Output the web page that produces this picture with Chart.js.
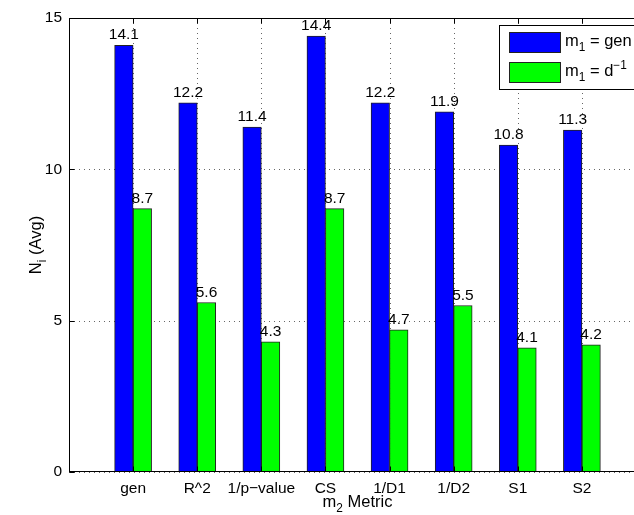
<!DOCTYPE html>
<html>
<head>
<meta charset="utf-8">
<script src="https://cdn.jsdelivr.net/npm/chart.js@4.4.1/dist/chart.umd.min.js"></script>
<style>
    html, body { margin: 0; padding: 0; background: #fff; overflow: hidden; }
    #wrap { width: 660px; height: 515px; }
</style>
</head>
<body>
<div id="wrap"><canvas id="myChart" width="660" height="515"></canvas></div>
<script>
    // du lieu doc tu hinh
    var metrics = ["gen", "R^2", "1/p\u2212value", "CS", "1/D1", "1/D2", "S1", "S2"];
    var genValues = [14.1, 12.2, 11.4, 14.4, 12.2, 11.9, 10.8, 11.3];
    var dinvValues = [8.7, 5.6, 4.3, 8.7, 4.7, 5.5, 4.1, 4.2];
    var yTicks = [0, 5, 10, 15];

    var FONT = '"Liberation Sans", Arial, Helvetica, sans-serif';
    var FS = 15.5;   // nhan truc, nhan gia tri
    var FT = 16.5;   // tieu de, chu giai

    // ve chu co chi so duoi / mu (m_1, d^-1 ...)
    function partSize(p, size) {
        return p.sub || p.sup ? size * 0.72 : size;
    }

    function drawRich(ctx, parts, x, y, align, size) {
        var w = 0;
        parts.forEach(function (p) {
            ctx.font = partSize(p, size) + "px " + FONT;
            w += ctx.measureText(p.t).width;
        });
        var cx = align === "center" ? x - w / 2 : x;
        ctx.textAlign = "left";
        ctx.textBaseline = "alphabetic";
        ctx.fillStyle = "#000";
        parts.forEach(function (p) {
            ctx.font = partSize(p, size) + "px " + FONT;
            var dy = p.sub ? size * 0.28 : (p.sup ? -size * 0.45 : 0);
            ctx.fillText(p.t, cx, y + dy);
            cx += ctx.measureText(p.t).width;
        });
    }

    var matlabAxes = {
        id: "matlabAxes",
        beforeDatasetsDraw: function (chart) {
            var ctx = chart.ctx;
            var a = chart.chartArea;
            var xs = chart.scales.x, ys = chart.scales.y;
            ctx.save();
            ctx.strokeStyle = "#666";
            ctx.lineWidth = 1;
            ctx.setLineDash([1, 4]);
            yTicks.forEach(function (v) {
                var py = Math.round(ys.getPixelForValue(v)) + 0.5;
                ctx.beginPath();
                ctx.moveTo(a.left, py);
                ctx.lineTo(a.right, py);
                ctx.stroke();
            });
            metrics.forEach(function (m, i) {
                var px = Math.round(xs.getPixelForValue(i + 1)) + 0.5;
                ctx.beginPath();
                ctx.moveTo(px, a.top);
                ctx.lineTo(px, a.bottom);
                ctx.stroke();
            });
            ctx.restore();
        },
        afterDatasetsDraw: function (chart) {
            var ctx = chart.ctx;
            var a = chart.chartArea;
            var xs = chart.scales.x, ys = chart.scales.y;
            var L = Math.round(a.left) + 0.5, R = Math.round(a.right) - 0.5;
            var T = Math.round(a.top) + 0.5, B = Math.round(a.bottom) - 0.5;
            ctx.save();
            ctx.setLineDash([]);
            ctx.strokeStyle = "#000";
            ctx.lineWidth = 1;
            ctx.strokeRect(L, T, R - L, B - T);
            // vach chia huong vao trong
            ctx.beginPath();
            metrics.forEach(function (m, i) {
                var px = Math.round(xs.getPixelForValue(i + 1)) + 0.5;
                ctx.moveTo(px, B); ctx.lineTo(px, B - 5);
                ctx.moveTo(px, T); ctx.lineTo(px, T + 5);
            });
            yTicks.forEach(function (v) {
                var py = Math.round(ys.getPixelForValue(v)) + 0.5;
                ctx.moveTo(L, py); ctx.lineTo(L + 5, py);
                ctx.moveTo(R, py); ctx.lineTo(R - 5, py);
            });
            ctx.stroke();

            // nhan gia tri tren moi cot
            ctx.font = FS + "px " + FONT;
            ctx.fillStyle = "#000";
            ctx.textAlign = "center";
            ctx.textBaseline = "alphabetic";
            chart.data.datasets.forEach(function (ds, di) {
                chart.getDatasetMeta(di).data.forEach(function (bar, i) {
                    ctx.fillText(ds.data[i].y.toFixed(1), bar.x, bar.y - 6);
                });
            });

            // chu giai
            ctx.fillStyle = "#fff";
            ctx.fillRect(499.5, 25.5, 200, 64);
            ctx.strokeRect(499.5, 25.5, 200, 64);
            var items = [
                { color: "#0000ff", y: 32, parts: [{ t: "m" }, { t: "1", sub: true }, { t: " = gen" }] },
                { color: "#00ff00", y: 62, parts: [{ t: "m" }, { t: "1", sub: true }, { t: " = d" }, { t: "\u22121", sup: true }] }
            ];
            items.forEach(function (it) {
                ctx.fillStyle = it.color;
                ctx.fillRect(509.5, it.y + 0.5, 51, 20);
                ctx.strokeStyle = "#222";
                ctx.strokeRect(509.5, it.y + 0.5, 51, 20);
                drawRich(ctx, it.parts, 565, it.y + 14, "left", FT);
            });

            // tieu de truc
            drawRich(ctx, [{ t: "m" }, { t: "2", sub: true }, { t: " Metric" }], (a.left + a.right) / 2, 507, "center", FT);
            ctx.translate(41, (a.top + a.bottom) / 2);
            ctx.rotate(-Math.PI / 2);
            drawRich(ctx, [{ t: "N" }, { t: "i", sub: true }, { t: " (Avg)" }], 0, 0, "center", FT);
            ctx.restore();
        }
    };

    var ctx = document.getElementById("myChart");

    var chart = new Chart(ctx, {
        type: "bar",
        data: {
            datasets: [{
                label: "m1 = gen",
                data: genValues.map(function (v, i) { return { x: i + 1, y: v }; }),
                backgroundColor: "#0000ff",
                borderColor: "#222",
                borderWidth: 1,
                barThickness: 18.5
            }, {
                label: "m1 = d^-1",
                data: dinvValues.map(function (v, i) { return { x: i + 1, y: v }; }),
                backgroundColor: "#00ff00",
                borderColor: "#222",
                borderWidth: 1,
                barThickness: 18.5
            }]
        },
        options: {
            responsive: false,
            animation: false,
            layout: { padding: { left: 0, right: 14, top: 18, bottom: 0 } },
            plugins: {
                legend: { display: false },
                tooltip: { enabled: false }
            },
            scales: {
                x: {
                    type: "linear",
                    min: 0,
                    max: 9,
                    offset: false,
                    grid: { display: false, drawTicks: false, offset: false },
                    border: { display: false },
                    afterBuildTicks: function (s) {
                        s.ticks = metrics.map(function (m, i) { return { value: i + 1 }; });
                    },
                    afterFit: function (s) { s.height = 43; },
                    ticks: {
                        autoSkip: false,
                        maxRotation: 0,
                        padding: 7,
                        color: "#000",
                        font: { family: FONT, size: FS },
                        callback: function (v) { return metrics[v - 1]; }
                    }
                },
                y: {
                    min: 0,
                    max: 15,
                    grid: { display: false, drawTicks: false },
                    border: { display: false },
                    afterBuildTicks: function (s) {
                        s.ticks = yTicks.map(function (v) { return { value: v }; });
                    },
                    afterFit: function (s) { s.width = 69; },
                    ticks: {
                        padding: 7,
                        color: "#000",
                        font: { family: FONT, size: FS }
                    }
                }
            }
        },
        plugins: [matlabAxes]
    });
</script>
</body>
</html>
